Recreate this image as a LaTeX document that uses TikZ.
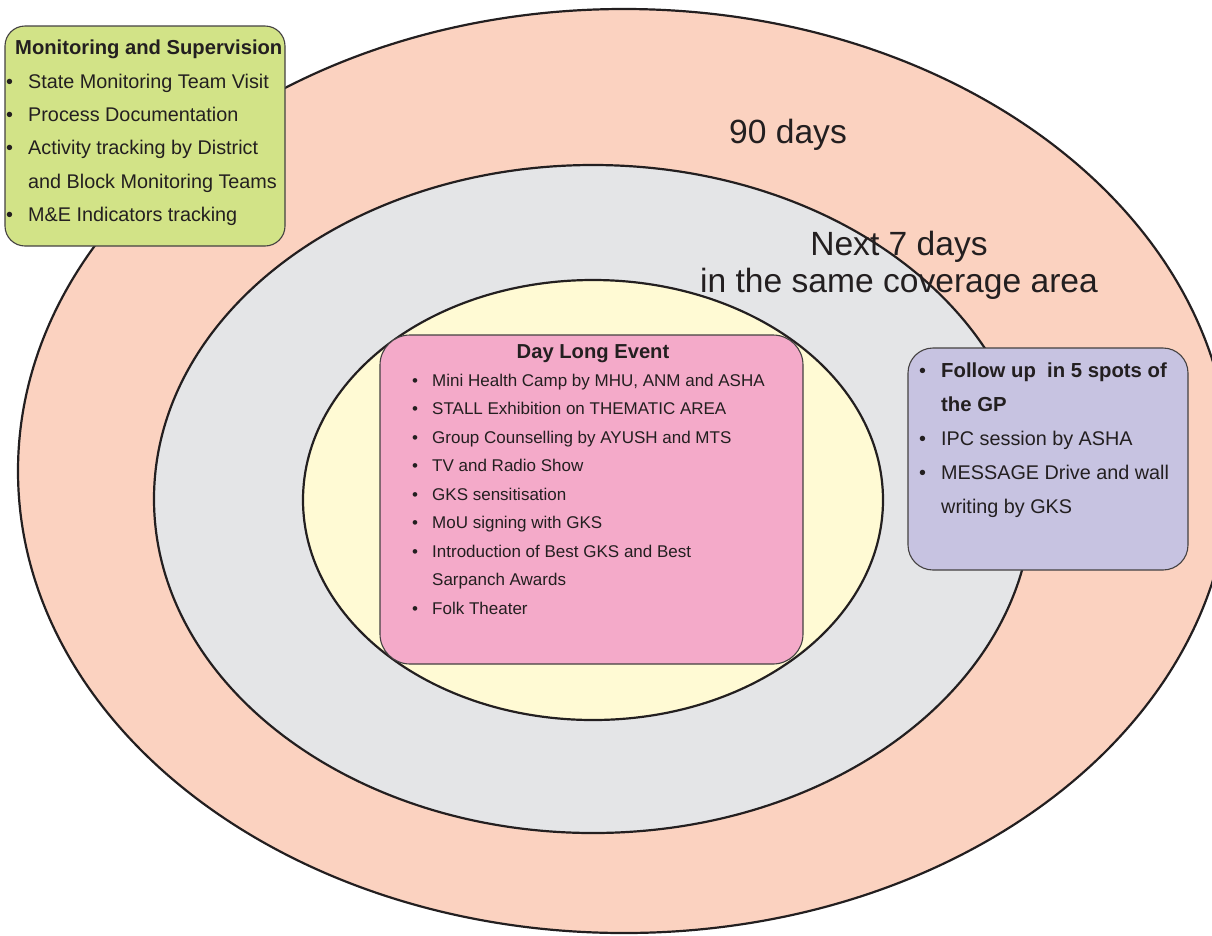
\documentclass[tikz,border=0pt]{standalone}
\usepackage{fontspec}
\setmainfont{Liberation Sans}
\usepackage{tikz}
\usetikzlibrary{positioning}
\definecolor{ringpeach}{HTML}{FBD2C0}
\definecolor{ringgray}{HTML}{E4E5E7}
\definecolor{ringyellow}{HTML}{FFFAD4}
\definecolor{eventpink}{HTML}{F4AAC9}
\definecolor{monigreen}{HTML}{D2E387}
\definecolor{followlilac}{HTML}{C7C3E1}
\definecolor{inkdark}{HTML}{231F20}
\newcommand{\bitem}[2][20pt]{\makebox[#1][l]{\textbullet}#2}
\newcommand{\bcont}[2][20pt]{\hspace*{#1}#2}

\begin{document}
\begin{tikzpicture}[x=1pt, y=-1pt,
		ring/.style={draw=inkdark, line width=2.2pt},
		panel/.style={draw=inkdark!85, line width=1.1pt, inner sep=0pt},
		txt/.style={inner sep=0pt, text=inkdark, align=left, anchor=north west},
		head/.style={inner sep=0pt, text=inkdark, font=\bfseries\fontsize{20.2}{24}\selectfont},
		big/.style={inner sep=0pt, text=inkdark, font=\fontsize{33.6}{37}\selectfont}
	]
		\useasboundingbox (0,0) rectangle (1212,935);
		\clip (0,0) rectangle (1212,935);

		% rings
		\draw[ring, fill=ringpeach] (624,471) ellipse [x radius=606, y radius=462];
		\draw[ring, fill=ringgray] (593,499) ellipse [x radius=439, y radius=334];
		\draw[ring, fill=ringyellow] (593,500) ellipse [x radius=290, y radius=220];

		% panels
		\node[panel, fill=monigreen, rounded corners=20pt, minimum width=280pt, minimum height=220pt] (mon) at (145,136) {};
		\node[panel, fill=eventpink, rounded corners=30pt, minimum width=423pt, minimum height=329pt] (day) at (591.5,499.5) {};
		\node[panel, fill=followlilac, rounded corners=25pt, minimum width=280pt, minimum height=222pt] (fol) at (1048,459) {};

		% monitoring
		\node[head, anchor=base west] (monhead) at (15,54) {Monitoring and Supervision};
		\node[txt, font=\fontsize{19.8}{33.3}\selectfont] (monlist) at (6,64.7) {%
			\strut\bitem[22pt]{State Monitoring Team Visit}\\
			\bitem[22pt]{Process Documentation}\\
			\bitem[22pt]{Activity tracking by District}\\
			\bcont[22pt]{and Block Monitoring Teams}\\
			\bitem[22pt]{M\&E Indicators tracking}};

		% day long event
		\node[head, anchor=base] (dayhead) at (593,358) {Day Long Event};
		\node[txt, font=\fontsize{17}{28.5}\selectfont] (daylist) at (412,366) {%
			\strut\bitem{Mini Health Camp by MHU, ANM and ASHA}\\
			\bitem{STALL Exhibition on THEMATIC AREA}\\
			\bitem{Group Counselling by AYUSH and MTS}\\
			\bitem{TV and Radio Show}\\
			\bitem{GKS sensitisation}\\
			\bitem{MoU signing with GKS}\\
			\bitem{Introduction of Best GKS and Best}\\
			\bcont{Sarpanch Awards}\\
			\bitem{Folk Theater}};

		% follow up
		\node[txt, font=\fontsize{19.8}{34.2}\selectfont] (follist) at (919,353) {%
			\strut\bitem[22pt]{\textbf{\fontsize{20.3}{34.2}\selectfont Follow up~ in 5 spots of}}\\
			\bcont[22pt]{\textbf{\fontsize{20.3}{34.2}\selectfont the GP}}\\
			\bitem[22pt]{IPC session by ASHA}\\
			\bitem[22pt]{MESSAGE Drive and wall}\\
			\bcont[22pt]{writing by GKS}};

		% ring labels
		\node[big, anchor=base west] (outerlbl) at (729,143) {90 days};
		\node[big, align=center, anchor=north] (midlbl) at (899,229.1) {\strut Next 7 days\\in the same coverage area};
	\end{tikzpicture}
\end{document}
